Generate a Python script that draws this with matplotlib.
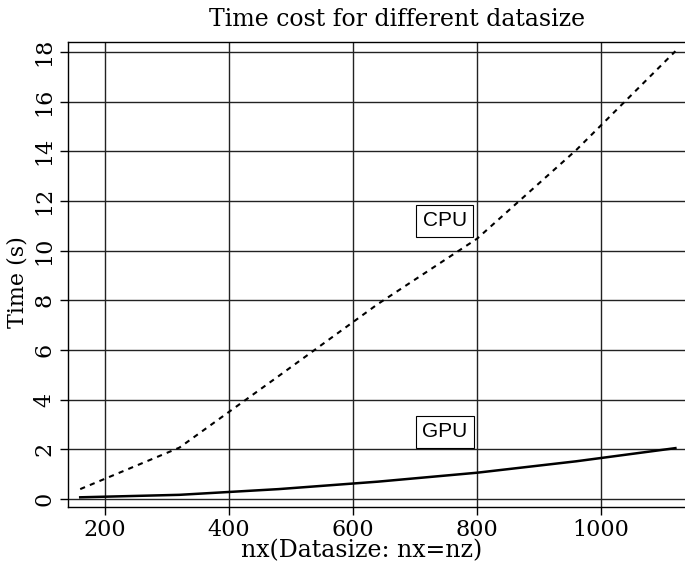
import matplotlib
matplotlib.use("Agg")
import matplotlib.pyplot as plt
import numpy as np

# data
nx = [160, 320, 480, 640, 800, 960, 1120]
cpu_time = [0.40, 2.07, 4.95, 7.85, 10.48, 14.05, 18.03]
gpu_time = [0.07, 0.17, 0.40, 0.70, 1.06, 1.52, 2.05]

x_ticks = [200, 400, 600, 800, 1000]
y_ticks = [0, 2, 4, 6, 8, 10, 12, 14, 16, 18]

TITLE = "Time cost for different datasize"
XLABEL = "nx(Datasize: nx=nz)"
YLABEL = "Time (s)"

SERIF = "DejaVu Serif"

W, H = 685, 565
fig = plt.figure(figsize=(W / 100, H / 100), dpi=100)
# axes box in pixels: left 68, right at image edge, top 42, bottom 507
ax = fig.add_axes([68 / W, (H - 507) / H, (W - 68) / W, (507 - 42) / H])

ax.plot(nx, cpu_time, color="black", lw=1.5, ls=(0, (2.5, 2.5)))
ax.plot(nx, gpu_time, color="black", lw=1.8)

ax.set_xlim(140.3, 1135.5)
ax.set_ylim(-0.32, 18.4)
ax.set_xticks(x_ticks)
ax.set_yticks(y_ticks)
ax.grid(True, color="#222222", lw=1.0)
ax.set_axisbelow(True)

for s in ["left", "bottom", "top"]:
    ax.spines[s].set_linewidth(1.0)
ax.spines["right"].set_visible(False)

ax.tick_params(direction="out", length=6, width=1.0, pad=3)
for lab in ax.get_xticklabels():
    lab.set_fontfamily(SERIF)
    lab.set_fontsize(16)
for lab in ax.get_yticklabels():
    lab.set_fontfamily(SERIF)
    lab.set_fontsize(16)
    lab.set_rotation(90)
    lab.set_va("center")

box = dict(boxstyle="square,pad=0.3", fc="white", ec="black", lw=0.8)
ax.text(748, 11.2, "CPU", fontsize=15, family="Liberation Sans",
        ha="center", va="center", bbox=box)
ax.text(748, 2.7, "GPU", fontsize=15, family="Liberation Sans",
        ha="center", va="center", bbox=box)

fig.text(397 / W, 1 - 20 / H, TITLE, fontsize=17, family=SERIF,
         ha="center", va="center")
fig.text(362 / W, 1 - 551 / H, XLABEL, fontsize=17, family=SERIF,
         ha="center", va="center")
fig.text(18 / W, 1 - 282 / H, YLABEL, fontsize=16, family=SERIF,
         ha="center", va="center", rotation=90)

fig.savefig("out.png", dpi=100)
